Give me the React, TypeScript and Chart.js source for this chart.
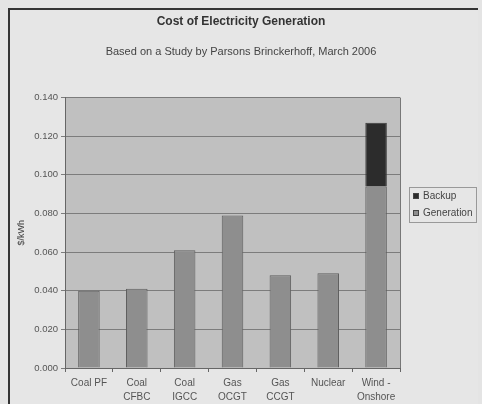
import React, { useEffect, useRef } from 'react';
import { Chart, registerables } from 'chart.js';
Chart.register(...registerables);

const categories: string[][] = [
  ['Coal PF'],
  ['Coal', 'CFBC'],
  ['Coal', 'IGCC'],
  ['Gas', 'OCGT'],
  ['Gas', 'CCGT'],
  ['Nuclear'],
  ['Wind -', 'Onshore'],
];
const generation = [0.04, 0.041, 0.061, 0.079, 0.048, 0.049, 0.094];
const backup: (number | null)[] = [null, null, null, null, null, null, 0.033];
const yMin = 0;
const yMax = 0.14;
const yStep = 0.02;

const FONT = '"Liberation Sans", Arial, sans-serif';

const plotBg = {
  id: 'plotBg',
  beforeDraw(chart: any) {
    const { ctx, chartArea } = chart;
    const { left, top, right, bottom } = chartArea;
    ctx.save();
    ctx.fillStyle = '#c0c0c0';
    ctx.fillRect(left, top, right - left, bottom - top);
    ctx.restore();
  },
  afterDraw(chart: any) {
    const { ctx, chartArea } = chart;
    const { right, top, bottom } = chartArea;
    ctx.save();
    ctx.strokeStyle = '#777';
    ctx.lineWidth = 1;
    ctx.beginPath();
    ctx.moveTo(Math.round(right) + 0.5, top);
    ctx.lineTo(Math.round(right) + 0.5, bottom);
    ctx.stroke();
    ctx.restore();
  },
};

const customLegend = {
  id: 'customLegend',
  afterDraw(chart: any) {
    const { ctx } = chart;
    const x = 399;
    const y = 177;
    const w = 67;
    const h = 35;
    ctx.save();
    ctx.strokeStyle = '#999';
    ctx.lineWidth = 1;
    ctx.strokeRect(x + 0.5, y + 0.5, w, h);
    const ds = [...chart.data.datasets].reverse();
    ctx.font = `10px ${FONT}`;
    ctx.textBaseline = 'middle';
    ds.forEach((d: any, i: number) => {
      const cy = y + 9 + i * 17;
      ctx.fillStyle = d.backgroundColor;
      ctx.fillRect(x + 4, cy - 3, 6, 6);
      ctx.strokeStyle = '#444';
      ctx.strokeRect(x + 4.5, cy - 2.5, 5, 5);
      ctx.fillStyle = '#444';
      ctx.fillText(d.label, x + 14, cy);
    });
    ctx.restore();
  },
};

export default function App() {
  const ref = useRef<HTMLCanvasElement>(null);
  useEffect(() => {
    document.body.style.background = '#e4e4e4';
    const chart = new Chart(ref.current!, {
      type: 'bar',
      data: {
        labels: categories as any,
        datasets: [
          {
            label: 'Generation',
            data: generation,
            backgroundColor: '#8e8e8e',
            borderColor: '#5e5e5e',
            borderWidth: 1,
            categoryPercentage: 0.45,
            barPercentage: 1,
          },
          {
            label: 'Backup',
            data: backup as any,
            backgroundColor: '#2c2c2c',
            borderColor: '#3a3a3a',
            borderWidth: 1,
            categoryPercentage: 0.45,
            barPercentage: 1,
          },
        ],
      },
      options: {
        animation: false,
        responsive: false,
        layout: { padding: { left: 0, right: 6, top: 0, bottom: 2 } },
        plugins: {
          legend: { display: false },
          tooltip: { enabled: false },
          title: {
            display: true,
            text: 'Cost of Electricity Generation',
            color: '#333',
            font: { family: FONT, size: 12, weight: 'bold' },
            padding: { top: 4, bottom: 17 },
          },
          subtitle: {
            display: true,
            text: 'Based on a Study by Parsons Brinckerhoff, March 2006',
            color: '#444',
            font: { family: FONT, size: 11 },
            padding: { top: 0, bottom: 39 },
          },
        },
        scales: {
          x: {
            stacked: true,
            grid: {
              display: true,
              drawOnChartArea: false,
              drawTicks: true,
              tickLength: 4,
              offset: true,
              color: '#666',
            },
            border: { display: true, color: '#666' },
            ticks: {
              color: '#555',
              font: { family: FONT, size: 10, lineHeight: 1.4 },
              maxRotation: 0,
              autoSkip: false,
              padding: 4,
            },
          },
          y: {
            stacked: true,
            min: yMin,
            max: yMax,
            afterFit(scale: any) {
              scale.width = 55;
            },
            grid: {
              color: '#7c7c7c',
              tickLength: 4,
            },
            border: { display: true, color: '#666' },
            ticks: {
              stepSize: yStep,
              color: '#555',
              font: { family: FONT, size: 9.5 },
              padding: 3,
              callback: (v: any) => Number(v).toFixed(3),
            },
            title: {
              display: true,
              text: '$/kWh',
              color: '#444',
              font: { family: FONT, size: 9 },
              padding: { top: 6, bottom: 0 },
            },
          },
          yRightSpace: {
            position: 'right',
            display: true,
            min: 0,
            max: 1,
            afterFit(scale: any) {
              scale.width = 72;
            },
            grid: { display: false, drawOnChartArea: false, drawTicks: false },
            border: { display: false },
            ticks: { display: false },
          },
        },
      } as any,
      plugins: [plotBg, customLegend],
    });
    return () => chart.destroy();
  }, []);
  return (
    <div
      style={{
        position: 'fixed',
        left: 8,
        top: 8,
        width: 468,
        height: 400,
        overflow: 'hidden',
        borderLeft: '2px solid #333',
        borderTop: '2px solid #333',
        background: '#e6e6e6',
      }}
    >
      <canvas ref={ref} width={468} height={400} style={{ display: 'block' }} />
    </div>
  );
}
